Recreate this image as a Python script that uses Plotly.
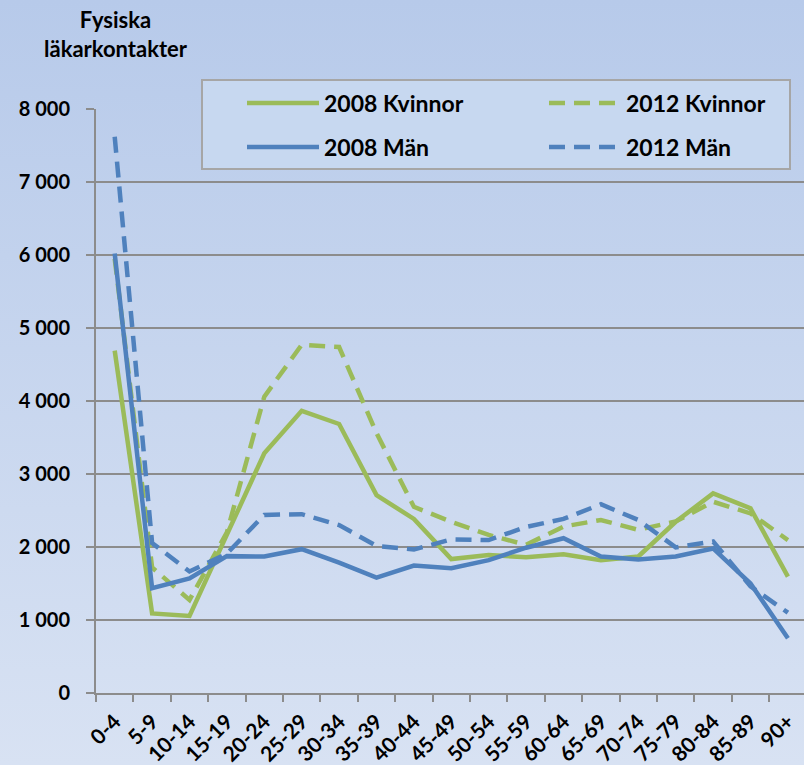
import base64
import plotly.graph_objects as go

# ---- data ----
age_groups = ['0-4', '5-9', '10-14', '15-19', '20-24', '25-29', '30-34', '35-39', '40-44',
              '45-49', '50-54', '55-59', '60-64', '65-69', '70-74', '75-79', '80-84', '85-89', '90+']
kvinnor_2008 = [4690, 1090, 1055, 2160, 3285, 3865, 3685, 2710, 2385, 1835, 1890, 1860,
                1900, 1820, 1870, 2345, 2735, 2530, 1595]
kvinnor_2012 = [5950, 1720, 1275, 2200, 4060, 4770, 4740, 3560, 2550, 2345, 2165, 2030,
                2280, 2370, 2235, 2350, 2620, 2460, 2095]
man_2008 = [6020, 1435, 1570, 1875, 1870, 1970, 1785, 1580, 1745, 1710, 1820, 1990,
            2120, 1870, 1830, 1870, 1980, 1500, 750]
man_2012 = [7620, 2055, 1665, 1910, 2440, 2450, 2300, 2015, 1965, 2105, 2095, 2275,
            2385, 2585, 2370, 1995, 2075, 1460, 1100]
y_tick_values = [0, 1000, 2000, 3000, 4000, 5000, 6000, 7000, 8000]
y_tick_labels = ['0', '1 000', '2 000', '3 000', '4 000', '5 000', '6 000', '7 000', '8 000']
series_names = ['2008 Kvinnor', '2012 Kvinnor', '2008 Män', '2012 Män']

GREEN = '#9BBB59'
BLUE = '#4F81BD'
GRID = '#8C8C8C'
FONT = 'Lato'

W, H = 804, 765
L, T, B = 96, 109, 72
PW, PH = W - L, H - T - B


def px_x(px):
    return (px - L) / PW


def px_y(py):
    return (H - B - py) / PH


fig = go.Figure()
specs = [
    (kvinnor_2008, GREEN, 'solid', 'legend'),
    (kvinnor_2012, GREEN, '16px,9px', 'legend2'),
    (man_2008, BLUE, 'solid', 'legend3'),
    (man_2012, BLUE, '16px,9px', 'legend4'),
]
for name, (vals, col, dash, lg) in zip(series_names, specs):
    fig.add_trace(go.Scatter(
        x=age_groups, y=vals, name=name, mode='lines',
        line=dict(color=col, width=4.5, dash=dash),
        legend=lg, showlegend=True, hoverinfo='x+y+name'))

# gradient background via svg
svg = ('<svg xmlns="http://www.w3.org/2000/svg" width="100" height="100" preserveAspectRatio="none">'
       '<defs><linearGradient id="g" x1="0" y1="0" x2="0" y2="1">'
       '<stop offset="0" stop-color="#B7CAEA"/><stop offset="1" stop-color="#D8E2F3"/>'
       '</linearGradient></defs><rect width="100" height="100" fill="url(#g)"/></svg>')
src = 'data:image/svg+xml;base64,' + base64.b64encode(svg.encode()).decode()
fig.add_layout_image(dict(source=src, xref='paper', yref='paper',
                          x=px_x(0), y=px_y(0), sizex=W / PW, sizey=H / PH,
                          xanchor='left', yanchor='top', sizing='stretch', layer='below'))

# legend box
fig.add_shape(type='rect', xref='paper', yref='paper',
              x0=px_x(202), x1=px_x(790), y0=px_y(169), y1=px_y(80),
              fillcolor='#C7D8F0', line=dict(color='#A6A6A6', width=2), layer='above')

legend_common = dict(orientation='h', bgcolor='rgba(0,0,0,0)', borderwidth=0,
                     xanchor='left', yanchor='middle', itemwidth=72, visible=True,
                     font=dict(family=FONT, size=23, color='#000000', weight='bold'))
fig.update_layout(
    showlegend=True,
    legend=dict(x=px_x(242), y=px_y(103), **legend_common),
    legend2=dict(x=px_x(544), y=px_y(103), **legend_common),
    legend3=dict(x=px_x(242), y=px_y(147), **legend_common),
    legend4=dict(x=px_x(544), y=px_y(147), **legend_common),
)

fig.add_annotation(text='<b>Fysiska<br>läkarkontakter</b>', xref='paper', yref='paper',
                   x=px_x(116), y=px_y(4), xanchor='center', yanchor='top', showarrow=False,
                   font=dict(family=FONT, size=22, color='#000000'), align='center')

fig.update_layout(
    width=W, height=H,
    margin=dict(l=L, r=0, t=T, b=B, pad=0, autoexpand=False),
    paper_bgcolor='#C8D6EE', plot_bgcolor='rgba(0,0,0,0)',
    font=dict(family=FONT, color='#000000'),
    xaxis=dict(type='category', range=[-0.5, 18.43], tickson='boundaries', ticks='outside',
               ticklen=7, tickwidth=2, tickcolor=GRID, showline=True, linecolor=GRID, linewidth=2,
               showgrid=False, tickangle=-45, zeroline=False, automargin=False,
               ticklabelstandoff=6,
               tickfont=dict(family=FONT, size=21, color='#000000', weight='bold')),
    yaxis=dict(range=[0, 8000], tickvals=y_tick_values, ticktext=y_tick_labels,
               ticks='outside', ticklen=8, tickwidth=2, tickcolor=GRID,
               showgrid=True, gridcolor=GRID, gridwidth=2, showline=True, linecolor=GRID,
               linewidth=2, zeroline=False, ticklabelstandoff=12, automargin=False,
               tickfont=dict(family=FONT, size=20, color='#000000', weight='bold')),
)

fig.write_html('out.html', config={'displayModeBar': False},
               post_script="document.body.style.margin='0';document.body.style.padding='0';"
                           "document.body.style.overflow='hidden';")
